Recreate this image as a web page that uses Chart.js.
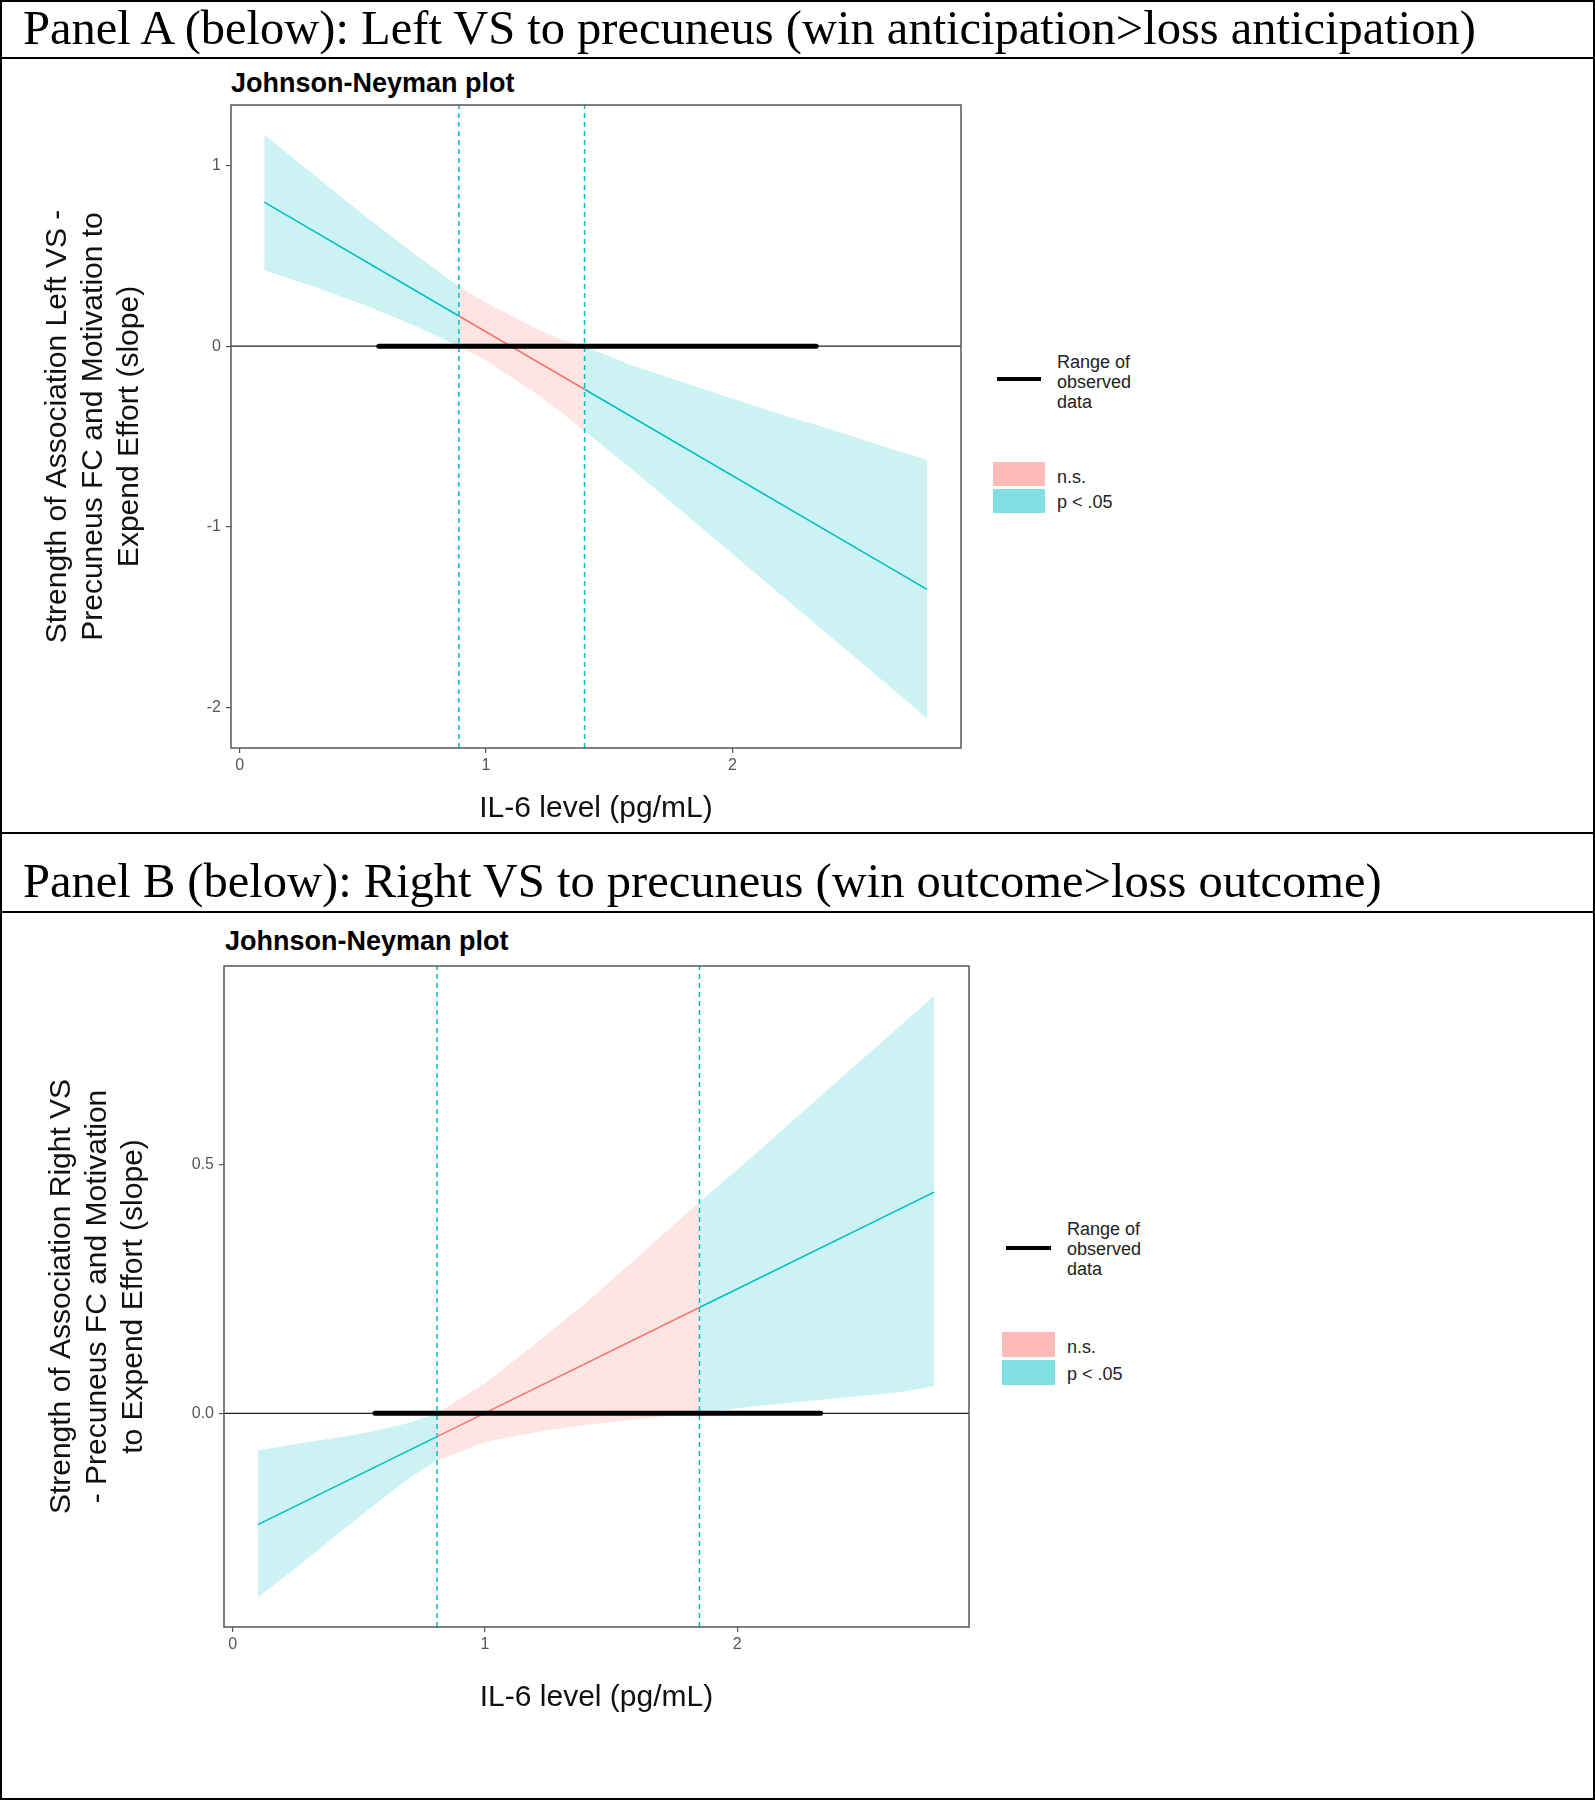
<!DOCTYPE html>
<html>
<head>
<meta charset="utf-8">
<title>Johnson-Neyman plots</title>
<script src="https://cdn.jsdelivr.net/npm/chart.js@4.4.1/dist/chart.umd.min.js"></script>
<style>
  body { margin: 0; background: #fff; }
  #page { position: relative; width: 1595px; height: 1800px; overflow: hidden; font-family: "Liberation Sans", Arial, sans-serif; }
  .frame { position: absolute; left: 0; top: 0; width: 1595px; height: 1800px; box-sizing: border-box; border: 2px solid #000; }
  .rule { position: absolute; left: 0; width: 1595px; height: 2px; background: #000; }
  .panel-head { position: absolute; left: 23px; font-family: "Liberation Serif", "Times New Roman", serif; font-size: 48.5px; line-height: 48px; white-space: nowrap; color: #000; }
  .jn-title { position: absolute; font-weight: bold; font-size: 27px; line-height: 30px; color: #000; white-space: nowrap; }
  canvas { position: absolute; }
  .leg-text { position: absolute; font-size: 18px; line-height: 20px; color: #222; white-space: nowrap; }
  .leg-line { position: absolute; height: 4px; background: #000; }
  .leg-box { position: absolute; }
</style>
</head>
<body>
<div id="page">
  <div class="frame"></div>
  <div class="rule" style="top:57px"></div>
  <div class="rule" style="top:832px"></div>
  <div class="rule" style="top:911px"></div>

  <div class="panel-head" style="top:4px">Panel A (below): Left VS to precuneus (win anticipation&gt;loss anticipation)</div>
  <div class="jn-title" style="left:231px; top:68px">Johnson-Neyman plot</div>
  <canvas id="chartA" width="960" height="740" style="left:10px; top:90px"></canvas>
  <div class="leg-line" style="left:997px; top:377px; width:44px"></div>
  <div class="leg-text" style="left:1057px; top:352px">Range of<br>observed<br>data</div>
  <div class="leg-box" style="left:993px; top:462px; width:52px; height:24px; background:rgb(252,187,182)"></div>
  <div class="leg-box" style="left:993px; top:489px; width:52px; height:24px; background:rgb(128,223,226)"></div>
  <div class="leg-text" style="left:1057px; top:467px">n.s.</div>
  <div class="leg-text" style="left:1057px; top:492px">p &lt; .05</div>

  <div class="panel-head" style="top:857px">Panel B (below): Right VS to precuneus (win outcome&gt;loss outcome)</div>
  <div class="jn-title" style="left:225px; top:926px">Johnson-Neyman plot</div>
  <canvas id="chartB" width="970" height="800" style="left:10px; top:950px"></canvas>
  <div class="leg-line" style="left:1006px; top:1246px; width:45px"></div>
  <div class="leg-text" style="left:1067px; top:1219px">Range of<br>observed<br>data</div>
  <div class="leg-box" style="left:1002px; top:1332px; width:53px; height:25px; background:rgb(252,187,182)"></div>
  <div class="leg-box" style="left:1002px; top:1360px; width:53px; height:25px; background:rgb(128,223,226)"></div>
  <div class="leg-text" style="left:1067px; top:1337px">n.s.</div>
  <div class="leg-text" style="left:1067px; top:1364px">p &lt; .05</div>
</div>

<script>
// Panel A: left VS to precuneus
const xTicksA = [0, 1, 2];
const yTicksA = [-2, -1, 0, 1];
const yTickLabelsA = ["-2", "-1", "0", "1"];
const xLimA = [-0.035, 2.928];
const yLimA = [-2.225, 1.335];
const jnA = [0.89, 1.40];
const rangeA = [0.565, 2.34];
const bandXA     = [0.10, 0.30, 0.50, 0.70, 0.89, 1.00, 1.10, 1.20, 1.30, 1.40, 1.60, 1.80, 2.00, 2.20, 2.40, 2.60, 2.79];
const bandUpperA = [1.17, 0.95, 0.73, 0.52, 0.33, 0.24, 0.17, 0.10, 0.04, 0.00, -0.11, -0.20, -0.29, -0.38, -0.46, -0.55, -0.63];
const bandLowerA = [0.42, 0.33, 0.23, 0.12, 0.00, -0.08, -0.17, -0.26, -0.36, -0.47, -0.69, -0.92, -1.15, -1.38, -1.61, -1.84, -2.06];
const lineXA = [0.10, 0.89, 1.40, 2.79];
const lineYA = [0.797, 0.167, -0.239, -1.347];
const yTitleA = ["Strength of Association Left VS -", "Precuneus FC and Motivation to", "Expend Effort (slope)"];

// Panel B: right VS to precuneus
const xTicksB = [0, 1, 2];
const yTicksB = [0, 0.5];
const yTickLabelsB = ["0.0", "0.5"];
const xLimB = [-0.034, 2.918];
const yLimB = [-0.43, 0.90];
const jnB = [0.81, 1.85];
const rangeB = [0.564, 2.33];
const bandXB     = [0.10, 0.25, 0.40, 0.55, 0.70, 0.81, 1.00, 1.20, 1.40, 1.60, 1.85, 2.05, 2.25, 2.45, 2.65, 2.78];
const bandUpperB = [-0.075, -0.062, -0.050, -0.037, -0.019, 0.000, 0.060, 0.140, 0.222, 0.312, 0.425, 0.512, 0.602, 0.692, 0.782, 0.840];
const bandLowerB = [-0.370, -0.312, -0.250, -0.189, -0.130, -0.095, -0.058, -0.038, -0.023, -0.012, 0.000, 0.013, 0.023, 0.033, 0.043, 0.055];
const lineXB = [0.10, 0.81, 1.85, 2.78];
const lineYB = [-0.224, -0.047, 0.213, 0.445];
const yTitleB = ["Strength of Association Right VS", "- Precuneus FC and Motivation", "to Expend Effort (slope)"];

const xTitle = "IL-6 level (pg/mL)";

const cyan = "#00BFC4";
const red = "#F8766D";
const cyanFill = "rgba(0, 191, 196, 0.2)";
const redFill = "rgba(248, 118, 109, 0.2)";
const clear = "rgba(0, 0, 0, 0)";

Chart.defaults.font.family = '"Liberation Sans", Arial, sans-serif';

function pts(xs, ys) {
    return xs.map((x, i) => ({ x: x, y: ys[i] }));
}

// cut a series at the two Johnson-Neyman bounds: sig / n.s. / sig
function pieces(xs, ys, jn) {
    const all = pts(xs, ys);
    return [
        all.filter(p => p.x <= jn[0]),
        all.filter(p => p.x >= jn[0] && p.x <= jn[1]),
        all.filter(p => p.x >= jn[1]),
    ];
}

function buildDatasets(d) {
    const up = pieces(d.bandX, d.bandUpper, d.jn);
    const lo = pieces(d.bandX, d.bandLower, d.jn);
    const ln = pieces(d.lineX, d.lineY, d.jn);
    const lineColors = [cyan, red, cyan];
    const fills = [cyanFill, redFill, cyanFill];
    const ds = [];

    ds.push({ data: pts(d.range, [0, 0]), borderColor: "#000", borderWidth: 5, borderCapStyle: "round", order: 1 });
    ds.push({ data: pts(d.xLim, [0, 0]), borderColor: "#222", borderWidth: 1.2, order: 2 });
    ln.forEach((seg, i) => {
        ds.push({ data: seg, borderColor: lineColors[i], borderWidth: 1.6, order: 3 });
    });
    d.jn.forEach(v => {
        ds.push({ data: pts([v, v], d.yLim), borderColor: cyan, borderWidth: 1.5, borderDash: [5, 4], order: 4 });
    });
    up.forEach((seg, i) => {
        ds.push({ data: seg, borderColor: clear, borderWidth: 0, backgroundColor: fills[i], fill: "+1", order: 5 });
        ds.push({ data: lo[i], borderColor: clear, borderWidth: 0, fill: false, order: 5 });
    });
    return ds;
}

// full panel border, like ggplot's theme_bw box
const frameBox = {
    id: "frameBox",
    afterDatasetsDraw(chart) {
        const { ctx, chartArea: a } = chart;
        ctx.save();
        ctx.strokeStyle = "#555";
        ctx.lineWidth = 1.5;
        ctx.strokeRect(a.left, a.top, a.right - a.left, a.bottom - a.top);
        ctx.restore();
    }
};

function makeChart(id, d) {
    const tickFont = { size: 16 };
    const titleFont = { size: 30, lineHeight: 1.2 };
    const config = {
        type: "line",
        data: { datasets: buildDatasets(d) },
        plugins: [frameBox],
        options: {
            responsive: false,
            animation: false,
            devicePixelRatio: 1,
            layout: { padding: d.pad },
            elements: { point: { radius: 0 }, line: { tension: 0 } },
            plugins: { legend: { display: false }, tooltip: { enabled: false } },
            scales: {
                x: {
                    type: "linear",
                    min: d.xLim[0],
                    max: d.xLim[1],
                    afterBuildTicks: (s) => { s.ticks = d.xTicks.map(v => ({ value: v })); },
                    afterFit: (s) => { s.height = d.xAxisH; },
                    ticks: { autoSkip: false, maxRotation: 0, padding: 3, font: tickFont, color: "#555",
                        callback: (v) => String(v) },
                    grid: { drawOnChartArea: false, tickLength: 5, color: "#555", lineWidth: 1.2 },
                    border: { display: false },
                    title: { display: true, text: xTitle, color: "#111", font: titleFont,
                        padding: { top: 0, bottom: d.xTitlePad } }
                },
                y: {
                    type: "linear",
                    min: d.yLim[0],
                    max: d.yLim[1],
                    afterBuildTicks: (s) => { s.ticks = d.yTicks.map(v => ({ value: v })); },
                    afterFit: (s) => { s.width = d.yAxisW; },
                    ticks: { autoSkip: false, padding: 5, font: tickFont, color: "#555",
                        callback: (v, i) => d.yTickLabels[i] },
                    grid: { drawOnChartArea: false, tickLength: 5, color: "#555", lineWidth: 1.2 },
                    border: { display: false },
                    title: { display: true, text: d.yTitle, color: "#111", font: titleFont,
                        padding: { top: d.yTitlePad, bottom: 0 } }
                }
            }
        }
    };
    return new Chart(document.getElementById(id).getContext("2d"), config);
}

makeChart("chartA", {
    bandX: bandXA, bandUpper: bandUpperA, bandLower: bandLowerA,
    lineX: lineXA, lineY: lineYA, jn: jnA, range: rangeA,
    xLim: xLimA, yLim: yLimA, xTicks: xTicksA, yTicks: yTicksA, yTickLabels: yTickLabelsA,
    yTitle: yTitleA,
    pad: { left: 0, top: 15, right: 9, bottom: 0 },
    yAxisW: 221, xAxisH: 82, yTitlePad: 30, xTitlePad: 3
});

makeChart("chartB", {
    bandX: bandXB, bandUpper: bandUpperB, bandLower: bandLowerB,
    lineX: lineXB, lineY: lineYB, jn: jnB, range: rangeB,
    xLim: xLimB, yLim: yLimB, xTicks: xTicksB, yTicks: yTicksB, yTickLabels: yTickLabelsB,
    yTitle: yTitleB,
    pad: { left: 0, top: 16, right: 11, bottom: 0 },
    yAxisW: 214, xAxisH: 123, yTitlePad: 34, xTitlePad: 34
});
</script>
</body>
</html>
